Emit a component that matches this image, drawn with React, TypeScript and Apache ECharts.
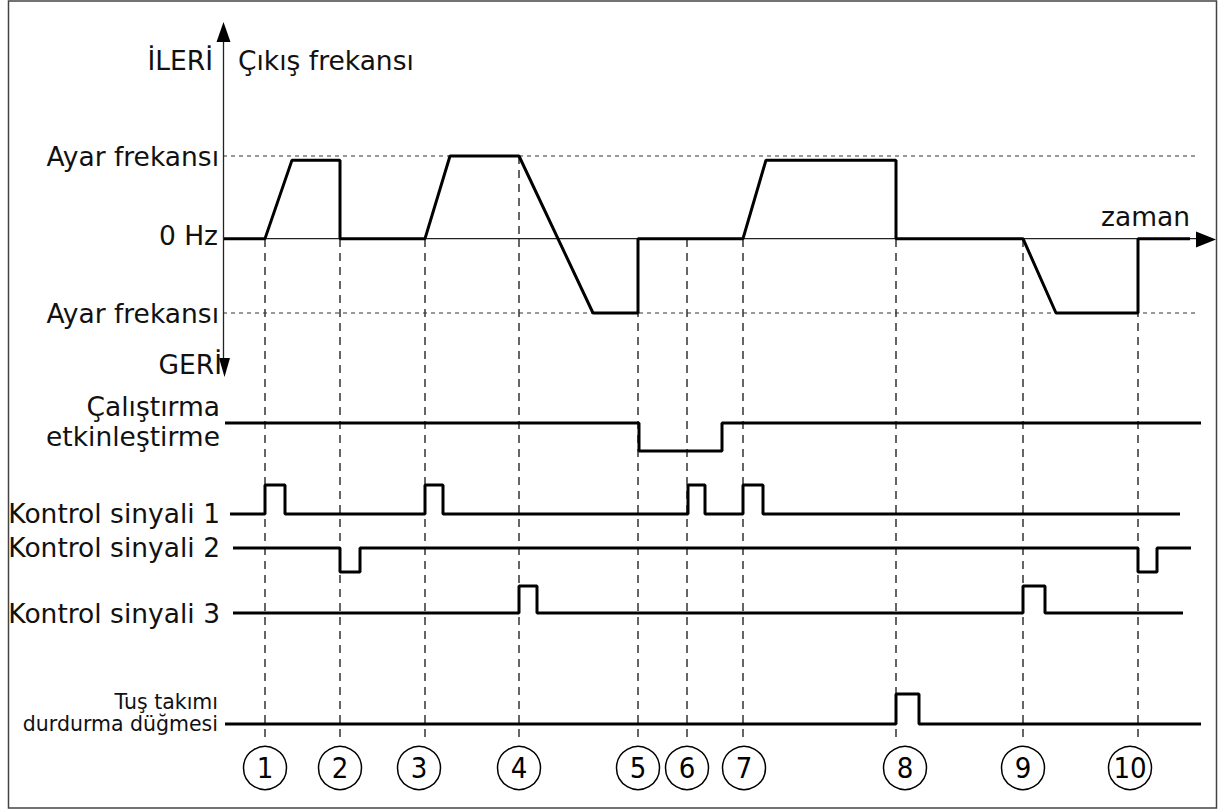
import React, { useEffect, useRef } from "react";
import * as echarts from "echarts";

// ---- time axis (units measured from the vertical axis) ----
const TIME_MAX = 996;
const eventTimes = [42, 117, 202, 296, 415, 464, 520, 673, 800, 915];
const circleTimes = [42, 117, 196, 296, 415, 464, 521, 682, 800, 907];
const circleLabels = ["1", "2", "3", "4", "5", "6", "7", "8", "9", "10"];

// ---- output frequency (Ayar frekansı forward = 1, reverse = -0.9) ----
const FREQ_FWD = 1;
const FREQ_REV = -0.9;
const freqTimes = [0, 42, 69, 117, 117, 202, 227, 296, 370, 415, 415, 520, 543, 673, 673, 800, 833, 915, 915, 967];
const freqValues = [0, 0, 0.95, 0.95, 0, 0, 1, 1, -0.9, -0.9, 0, 0, 0.95, 0.95, 0, 0, -0.9, -0.9, 0, 0];
const refLineEnd = 972;
const zeroLineEnd = 974;

// ---- digital signals ----
const enableTimes = [2, 416, 416, 499, 499, 978];
const enableValues = [1, 1, 0, 0, 1, 1];

const ctrl1Times = [7, 42, 42, 62, 62, 202, 202, 220, 220, 465, 465, 482, 482, 520, 520, 540, 540, 957];
const ctrl1Values = [0, 0, 1, 1, 0, 0, 1, 1, 0, 0, 1, 1, 0, 0, 1, 1, 0, 0];

const ctrl2Times = [10, 117, 117, 137, 137, 915, 915, 934, 934, 968];
const ctrl2Values = [1, 1, 0, 0, 1, 1, 0, 0, 1, 1];

const ctrl3Times = [10, 296, 296, 314, 314, 800, 800, 822, 822, 960];
const ctrl3Values = [0, 0, 1, 1, 0, 0, 1, 1, 0, 0];

const keypadTimes = [2, 673, 673, 696, 696, 978];
const keypadValues = [0, 0, 1, 1, 0, 0];

// ---- labels ----
const topLabels = ["İLERİ", "Çıkış frekansı"];
const freqLabels = ["Ayar frekansı", "0 Hz", "Ayar frekansı", "GERİ"];
const enableLabel = ["Çalıştırma", "etkinleştirme"];
const ctrlLabels = ["Kontrol sinyali 1", "Kontrol sinyali 2", "Kontrol sinyali 3"];
const keypadLabel = ["Tuş takımı", "durdurma düğmesi"];
const timeLabel = "zaman";

const FONT = "'DejaVu Sans', Verdana, sans-serif";
const NUM_FONT = "'DejaVu Sans Condensed', 'DejaVu Sans', sans-serif";
const INK = "#000";
const DASH = "#333";

const zip = (xs: number[], ys: number[]) => xs.map((x, i) => [x, ys[i]]);

export default function App() {
  const ref = useRef<HTMLDivElement>(null);
  useEffect(() => {
    if (!ref.current) return;
    const chart = echarts.init(ref.current, null, { renderer: "svg" });

    // grids: [top, height] for each row
    const rows = [
      [156, 157], // 0 frequency
      [423, 28], // 1 enable
      [485, 29], // 2 ctrl1
      [548, 24], // 3 ctrl2
      [586, 27], // 4 ctrl3
      [694, 30], // 5 keypad
      [239, 503], // 6 event dashed lines
      [746, 44], // 7 circles
    ];
    const grid = rows.map(([top, height]) => ({ left: 223, right: 0, top, height }));
    const xAxis = rows.map((_, i) => ({ type: "value", gridIndex: i, min: 0, max: TIME_MAX, show: false }));
    const yAxis = rows.map((_, i) =>
      i === 0
        ? { type: "value", gridIndex: i, min: FREQ_REV, max: FREQ_FWD, show: false }
        : { type: "value", gridIndex: i, min: 0, max: 1, show: false }
    );

    const line = (idx: number, data: any[], style: any, z = 3) => ({
      type: "line",
      xAxisIndex: idx,
      yAxisIndex: idx,
      data,
      symbol: "none",
      clip: false,
      silent: true,
      z,
      lineStyle: style,
    });

    const solid = { color: INK, width: 3 };
    const series: any[] = [];
    // reference dashed lines
    series.push(line(0, [[0, FREQ_FWD], [refLineEnd, FREQ_FWD]], { color: "#333", width: 1.2, type: [4, 4] }, 1));
    series.push(line(0, [[0, FREQ_REV], [refLineEnd, FREQ_REV]], { color: "#333", width: 1.2, type: [4, 4] }, 1));
    // zero axis
    series.push(line(0, [[0, 0], [zeroLineEnd, 0]], { color: "#222", width: 1.3 }, 2));
    // event dashed verticals
    eventTimes.forEach((t) => {
      series.push(line(6, [[t, 1], [t, 0]], { color: DASH, width: 1.5, type: [8, 6] }, 1));
    });
    series.push(line(0, [[eventTimes[3], 1], [eventTimes[3], 0]], { color: DASH, width: 1.5, type: [8, 6] }, 1));
    // signals
    series.push(line(0, zip(freqTimes, freqValues), solid));
    series.push(line(1, zip(enableTimes, enableValues), solid));
    series.push(line(2, zip(ctrl1Times, ctrl1Values), solid));
    series.push(line(3, zip(ctrl2Times, ctrl2Values), solid));
    series.push(line(4, zip(ctrl3Times, ctrl3Values), solid));
    series.push(line(5, zip(keypadTimes, keypadValues), solid));
    // numbered circles
    series.push({
      type: "scatter",
      xAxisIndex: 7,
      yAxisIndex: 7,
      data: circleTimes.map((t) => [t, 0.5]),
      symbol: "circle",
      symbolSize: 43,
      silent: true,
      itemStyle: { color: "#fff", borderColor: INK, borderWidth: 1.5, opacity: 1 },
      label: {
        show: true,
        position: "inside",
        formatter: (p: any) => circleLabels[p.dataIndex],
        fontSize: 29,
        fontFamily: NUM_FONT,
        color: INK,
      },
      z: 4,
    });

    const txt = (text: string, x: number, y: number, align: string, size = 26.5) => ({
      type: "text",
      x,
      y,
      z: 10,
      style: {
        text,
        fill: "#111",
        fontSize: size,
        fontFamily: FONT,
        align,
        verticalAlign: "middle",
      },
    });

    const graphic: any[] = [
      { type: "rect", shape: { x: 8.5, y: 1, width: 1208, height: 807 }, style: { fill: "none", stroke: "#444", lineWidth: 1.5 }, z: 0 },
      // vertical axis
      { type: "line", shape: { x1: 223.5, y1: 40, x2: 223.5, y2: 360 }, style: { stroke: "#222", lineWidth: 1.3 }, z: 5 },
      { type: "polygon", shape: { points: [[223.5, 22], [216.5, 42], [230.5, 42]] }, style: { fill: INK }, z: 5 },
      { type: "polygon", shape: { points: [[224.5, 377], [219, 358], [230, 358]] }, style: { fill: INK }, z: 5 },
      // time axis arrow
      { type: "polygon", shape: { points: [[1216, 239.5], [1196, 231.5], [1196, 247.5]] }, style: { fill: INK }, z: 5 },
      txt(topLabels[0], 213, 60, "right"),
      txt(topLabels[1], 238, 60, "left"),
      txt(freqLabels[0], 219, 156, "right"),
      txt(freqLabels[1], 218, 235, "right"),
      txt(freqLabels[2], 219, 313, "right"),
      txt(freqLabels[3], 222, 364, "right"),
      txt(enableLabel[0], 220, 406, "right"),
      txt(enableLabel[1], 220, 436, "right"),
      txt(ctrlLabels[0], 220, 513, "right"),
      txt(ctrlLabels[1], 220, 547, "right"),
      txt(ctrlLabels[2], 220, 613, "right"),
      txt(keypadLabel[0], 218, 702, "right", 20.5),
      txt(keypadLabel[1], 218, 724, "right", 20.5),
      txt(timeLabel, 1190, 216, "right"),
    ];

    chart.setOption({
      animation: false,
      backgroundColor: "#fff",
      grid,
      xAxis,
      yAxis,
      series,
      graphic,
    });
    return () => chart.dispose();
  }, []);
  return <div ref={ref} style={{ position: "absolute", left: 0, top: 0, width: 1219, height: 810 }} />;
}
